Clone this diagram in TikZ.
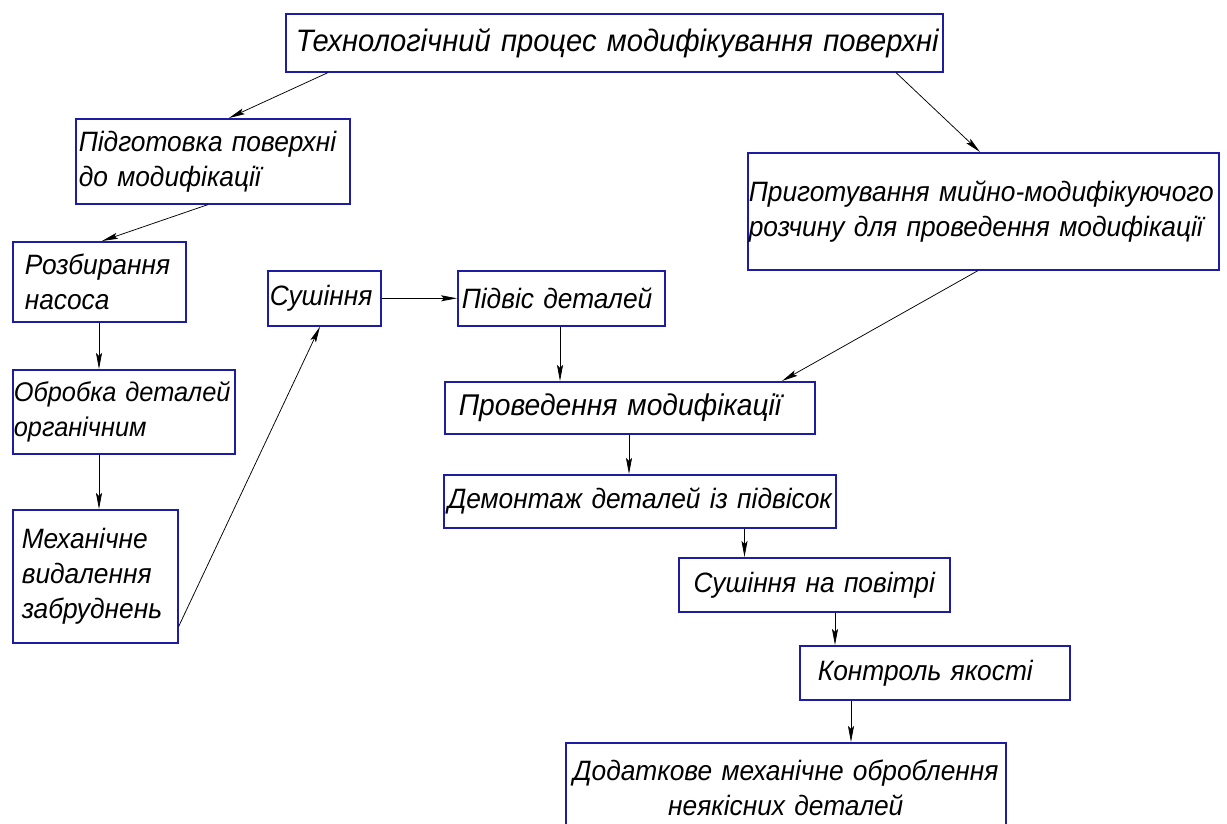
\documentclass[tikz,border=0pt]{standalone}
\usepackage{fontspec}
\setmainfont{Liberation Sans}[FakeStretch=0.94]
\usetikzlibrary{arrows.meta}
\definecolor{boxblue}{RGB}{28,28,165}
\tikzset{
  blk/.style={draw=boxblue, line width=1.6pt, font=\itshape\fontsize{28}{35}\selectfont,
    inner ysep=0pt, align=left, anchor=north west},
  big/.style={font=\itshape\fontsize{31}{36}\selectfont},
  bigb/.style={font=\itshape\fontsize{30}{36}\selectfont},
  small/.style={font=\itshape\fontsize{27}{35}\selectfont},
  arr/.style={draw=black, line width=0.75pt, -{Stealth[length=16pt,width=6pt,inset=3pt]}}
}
\newcommand{\bx}[9][]{% opts, name, left, top, right, bottom, pad, align, text
  \pgfmathsetmacro{\bxtw}{#5-#3-2*#7}%
  \pgfmathsetmacro{\bxth}{#6-#4}%
  \node[blk, #1, align=#8, inner xsep=#7pt, text width=\bxtw pt, minimum height=\bxth pt] (#2) at (#3,#4) {#9};}
\begin{document}
\begin{tikzpicture}[x=1pt,y=-1pt]
\fill[white] (0,0) rectangle (1227,823);
\useasboundingbox (0,0) rectangle (1227,823);
\begin{scope}
\clip (0,0) rectangle (1227,823);
\bx[big]{top}{285}{13}{942}{71}{10}{left}{\mbox{Технологічний процес модифікування поверхні}}
\bx{pod}{75}{118}{349}{203}{3}{left}{\mbox{Підготовка поверхні}\\\mbox{до модифікації}}
\bx{prig}{747}{152}{1218}{269}{1}{left}{\mbox{Приготування мийно-модифікуючого}\\\mbox{розчину для проведення модифікації}}
\bx{rozb}{12}{241}{185}{321}{12}{left}{Розбирання\\насоса}
\bx{sush}{267}{270}{380}{325}{2}{left}{Сушіння}
\bx{pidv}{457}{270}{664}{325}{4}{left}{\mbox{Підвіс деталей}}
\bx[small]{obr}{12}{369}{234}{453}{1}{left}{\mbox{Обробка деталей}\\органічним}
\bx[bigb]{prov}{444}{381}{814}{433}{14}{left}{\mbox{Проведення модифікації}}
\bx{mech}{12}{509}{177}{642}{9}{left}{Механічне\\видалення\\забруднень}
\bx{dem}{443}{474}{835}{527}{4}{left}{\mbox{Демонтаж деталей із підвісок}}
\bx{sushp}{678}{557}{949}{611}{10}{center}{\mbox{Сушіння на повітрі}}
\bx{kontr}{799}{645}{1069}{699}{18}{left}{\mbox{Контроль якості}}
\bx{dod}{565}{742}{1005}{832}{4}{center}{\mbox{Додаткове механічне оброблення}\\\mbox{неякісних деталей}}
\end{scope}
\draw[arr] ([xshift=43pt]top.south west) -- ([xshift=154pt]pod.north west);
\draw[arr] ([xshift=611pt]top.south west) -- ([xshift=233pt]prig.north west);
\draw[arr] ([xshift=133pt]pod.south west) -- ([xshift=90pt]rozb.north west);
\draw[arr] ([xshift=87pt]rozb.south west) -- ([xshift=87pt]obr.north west);
\draw[arr] ([xshift=87pt]obr.south west) -- ([xshift=87pt]mech.north west);
\draw[arr] ([yshift=17pt]mech.south east) -- ([xshift=53pt]sush.south west);
\draw[arr] (sush.east) -- (pidv.west);
\draw[arr] ([xshift=103pt]pidv.south west) -- ([xshift=116pt]prov.north west);
\draw[arr] ([xshift=231pt]prig.south west) -- ([xshift=338pt]prov.north west);
\draw[arr] ([xshift=185pt]prov.south west) -- ([xshift=186pt]dem.north west);
\draw[arr] ([xshift=301.5pt]dem.south west) -- ([xshift=66.5pt]sushp.north west);
\draw[arr] ([xshift=157pt]sushp.south west) -- ([xshift=36pt]kontr.north west);
\draw[arr] ([xshift=52pt]kontr.south west) -- ([xshift=286pt]dod.north west);
\end{tikzpicture}
\end{document}
